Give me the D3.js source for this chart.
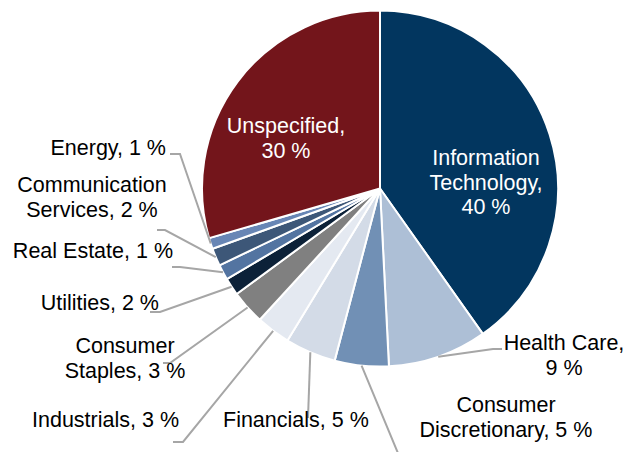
<!DOCTYPE html>
<html>
<head>
    <meta charset="utf-8">
    <title>Sector allocation</title>
    <script src="https://d3js.org/d3.v7.min.js"></script>
    <style>
        body { margin: 0; background: #fff; }
        text { font-family: "Liberation Sans", Arial, sans-serif; font-size: 21.5px; }
    </style>
</head>
<body>
    <div id="chart"></div>

    <script>
        // data
        const sectors = ["Information Technology", "Health Care", "Consumer Discretionary", "Financials",
            "Industrials", "Consumer Staples", "Utilities", "Real Estate", "Communication Services",
            "Energy", "Unspecified"];
        const weights = [40.2, 9.0, 4.9, 4.6, 3.1, 3.1, 1.6, 1.4, 1.6, 1.0, 29.5];
        const colors = ["#02365f", "#adbfd6", "#7190b5", "#d3dbe7", "#e4e9f1", "#808080",
            "#0c2138", "#5374a1", "#3d5778", "#6886b5", "#73151b"];

        // label layout: anchor point, line breaks (after word index), leader elbow + end
        const labelLayout = [
            {x: 486, y: 165, anchor: "middle", breaks: [0, 1], fill: "#fff"},
            {x: 564, y: 350, anchor: "middle", breaks: [1], elbow: [493, 349], end: [502, 349]},
            {x: 506, y: 412, anchor: "middle", breaks: [0], elbow: [400, 458], end: [410, 458]},
            {x: 223, y: 427, anchor: "start", breaks: [], elbow: [308, 418], end: [308, 418]},
            {x: 179, y: 427, anchor: "end", breaks: [], elbow: [183, 442], end: [173, 442]},
            {x: 125, y: 353, anchor: "middle", breaks: [0], elbow: [170, 363], end: [163, 363]},
            {x: 159, y: 310, anchor: "end", breaks: [], elbow: [160, 312], end: [150, 312]},
            {x: 173, y: 258, anchor: "end", breaks: [], elbow: [180, 267], end: [172, 267]},
            {x: 92, y: 192, anchor: "middle", breaks: [0], elbow: [165, 230], end: [157, 230]},
            {x: 166, y: 155, anchor: "end", breaks: [], elbow: [180, 154], end: [170, 154]},
            {x: 286, y: 133, anchor: "middle", breaks: [0], fill: "#fff"}
        ];

        const W = 636, H = 452;
        const cx = 380, cy = 188.5, radius = 178;
        const lineHeight = 24.5;

        const svg = d3.select("#chart")
            .append("svg")
            .attr("width", W)
            .attr("height", H);

        const g = svg.append("g")
            .attr("transform", `translate(${cx},${cy})`);

        const data = sectors.map((s, i) => ({name: s, value: weights[i], color: colors[i], layout: labelLayout[i]}));

        const pie = d3.pie()
            .sort(null)
            .value(d => d.value);

        const arc = d3.arc()
            .innerRadius(0)
            .outerRadius(radius);

        const arcs = pie(data);

        // slices
        g.selectAll("path.slice")
            .data(arcs)
            .enter()
            .append("path")
            .attr("class", "slice")
            .attr("d", arc)
            .attr("fill", d => d.data.color)
            .attr("stroke", "#fff")
            .attr("stroke-width", 2)
            .attr("stroke-linejoin", "round");

        // leader lines: start on the rim at the slice mid angle
        const rim = d3.arc().innerRadius(radius).outerRadius(radius);
        svg.selectAll("polyline.leader")
            .data(arcs.filter(d => d.data.layout.elbow))
            .enter()
            .append("polyline")
            .attr("class", "leader")
            .attr("points", d => {
                const c = rim.centroid(d);
                const l = d.data.layout;
                return [[cx + c[0], cy + c[1]], l.elbow, l.end].map(p => p.join(",")).join(" ");
            })
            .attr("fill", "none")
            .attr("stroke", "#a6a6a6")
            .attr("stroke-width", 2);

        // labels
        arcs.forEach(d => {
            const l = d.data.layout;
            const words = `${d.data.name}, ${Math.round(d.data.value)} %`.split(" ");
            const lines = [];
            let cur = [];
            words.forEach((w, i) => {
                cur.push(w);
                if (l.breaks.includes(i)) { lines.push(cur.join(" ")); cur = []; }
            });
            if (cur.length) lines.push(cur.join(" "));

            const t = svg.append("text")
                .attr("text-anchor", l.anchor)
                .attr("fill", l.fill || "#000");
            lines.forEach((s, i) => {
                t.append("tspan")
                    .attr("x", l.x)
                    .attr("y", l.y + i * lineHeight)
                    .text(s);
            });
        });
    </script>
</body>
</html>
